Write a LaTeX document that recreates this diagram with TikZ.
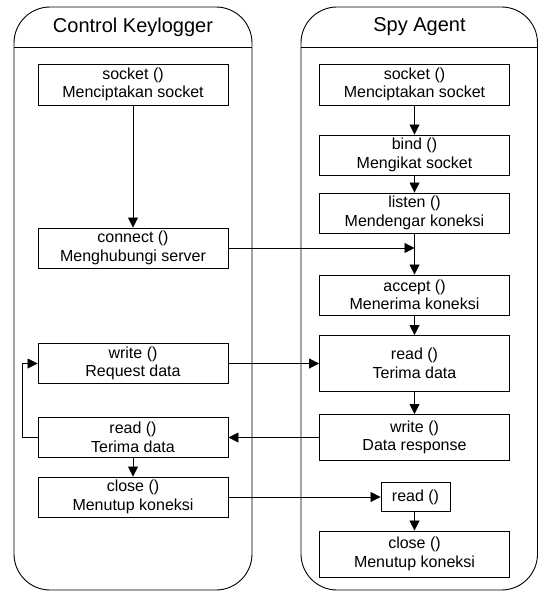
\documentclass[tikz,border=0pt]{standalone}
\usepackage{fontspec}
\setmainfont{Liberation Sans}
\usetikzlibrary{arrows.meta,calc}
\begin{document}
\begin{tikzpicture}[x=1pt,y=-1pt,
  lane/.style={draw,line width=0.9pt,rounded corners=36pt},
  proc/.style={draw,line width=0.9pt,minimum width=190pt,inner sep=0pt,align=center,
     font=\fontsize{16}{18.5}\selectfont},
  title/.style={font=\fontsize{20}{24}\selectfont},
  flow/.style={line width=0.8pt,-{Triangle[length=10pt,width=10pt]}}]
\useasboundingbox (0,0) rectangle (539,592);
% lanes
\draw[lane] (14,590) rectangle (252,7);
\draw[line width=0.9pt] (14,47) -- (252,47);
\draw[lane] (301,590) rectangle (537.5,7);
\draw[line width=0.9pt] (301,47) -- (537.5,47);
\node[title] (tl) at (133,27) {Control Keylogger};
\node[title] (tr) at (419.5,27) {Spy Agent};
% left boxes
\node[proc,minimum height=41pt] (lsock) at (133,84.5) {socket ()\\Menciptakan socket};
\node[proc,minimum height=40pt] (lconn) at (133,248) {connect ()\\Menghubungi server};
\node[proc,minimum height=40pt] (lwrite) at (133,363.5) {write ()\\Request data};
\node[proc,minimum height=40pt] (lread) at (133,437.5) {read ()\\Terima data};
\node[proc,minimum height=40pt] (lclose) at (133,497) {close ()\\Menutup koneksi};
% right boxes
\node[proc,minimum height=41pt] (rsock) at (414.5,84.5) {socket ()\\Menciptakan socket};
\node[proc,minimum height=40pt] (rbind) at (414.5,155) {bind ()\\Mengikat socket};
\node[proc,minimum height=40pt] (rlisten) at (414.5,213) {listen ()\\Mendengar koneksi};
\node[proc,minimum height=40pt] (raccept) at (414.5,295) {accept ()\\Menerima koneksi};
\node[proc,minimum height=56pt] (rread) at (414.5,363.5) {read ()\\Terima data};
\node[proc,minimum height=46pt] (rwrite) at (414.5,437.5) {write ()\\Data response};
\node[proc,minimum width=69pt,minimum height=29pt] (rread2) at (415.5,497) {read ()};
\node[proc,minimum height=46pt] (rclose) at (414.5,554) {close ()\\Menutup koneksi};
% flows left
\draw[flow] (lsock) -- (lconn);
\draw[flow] (lread) -- (lclose);
\coordinate (loop) at (22,437.5);
\draw[flow] (lread.west) -- (loop) |- (lwrite.west);
% flows right
\draw[flow] (rsock) -- (rbind);
\draw[flow] (rbind) -- (rlisten);
\draw[flow] (rlisten) -- (raccept);
\draw[flow] (raccept) -- (rread);
\draw[flow] (rread) -- (rwrite);
\draw[flow] (rread2.south -| rclose.north) -- (rclose.north);
% cross flows
\coordinate (cj) at (414.5,248);
\draw[flow] (lconn.east) -- (cj);
\draw[flow] (lwrite.east) -- (rread.west);
\draw[flow] (rwrite.west) -- (lread.east);
\draw[flow] (lclose.east) -- (rread2.west);
\end{tikzpicture}
\end{document}
